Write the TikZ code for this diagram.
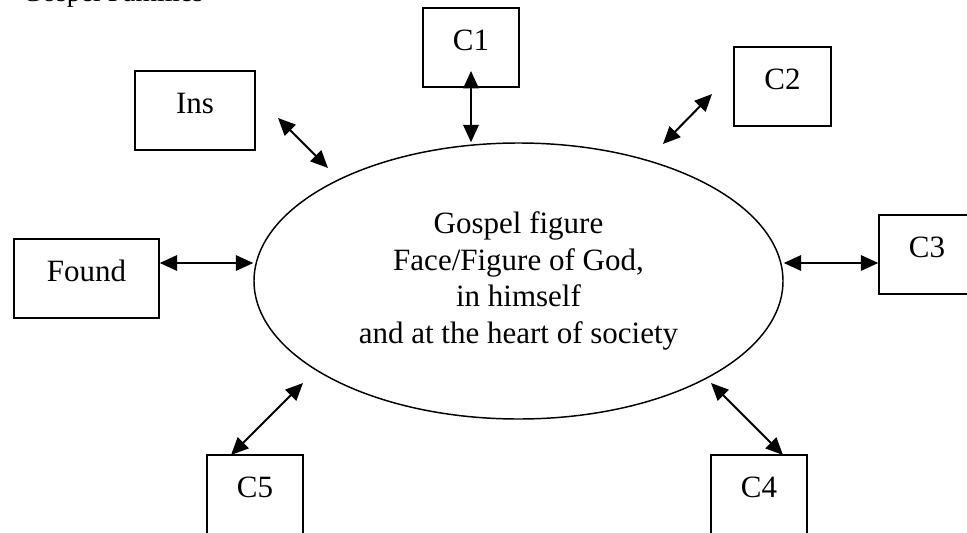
\documentclass[tikz,border=0pt]{standalone}
\usepackage{fontspec}
\setmainfont{Liberation Serif}
\usetikzlibrary{arrows.meta,shapes.geometric}

\begin{document}
\begin{tikzpicture}[x=.75pt,y=-.75pt,
  box/.style={draw,line width=1.1pt,inner sep=0pt,minimum height=59.25pt,
    text height=16pt,text depth=12pt,font=\fontsize{23.25}{27.5}\selectfont},
  link/.style={line width=1.5pt,
    {Triangle[length=13pt,width=11.5pt]}-{Triangle[length=13pt,width=11.5pt]}}]
\useasboundingbox (0,0) rectangle (967,532);
\node[anchor=base west,inner sep=0pt,font=\fontsize{20.8}{24}\selectfont] (title) at (22,1) {Gospel Families};
\node[box,minimum width=90pt] (ins) at (195,110.5) {Ins};
\node[box,minimum width=72pt] (c1) at (471,47.5) {C1};
\node[box,minimum width=72.75pt] (c2) at (782.5,86.5) {C2};
\node[box,minimum width=108.75pt] (found) at (86.5,278.5) {Found};
\node[box,minimum width=72pt] (c3) at (927,254.5) {C3};
\node[box,minimum width=72pt] (c5) at (255,494.5) {C5};
\node[box,minimum width=72pt] (c4) at (759,494.5) {C4};
\node[draw,ellipse,line width=1.1pt,inner sep=0pt,minimum width=396.75pt,minimum height=207pt,
  align=center,font=\fontsize{23.25}{27.5}\selectfont] (fig) at (518.5,281)
  {Gospel figure\\Face/Figure of God,\\in himself\\and at the heart of society};
\coordinate (c1-a) at (471,71);
\coordinate (ins-a) at (278,118);
\coordinate (ins-b) at (328,168);
\coordinate (c2-a) at (663,144);
\coordinate (c2-b) at (712,94);
\coordinate (c5-a) at (303,383);
\coordinate (c5-b) at (231,455);
\coordinate (c4-a) at (711,383);
\coordinate (c4-b) at (783,455);
\draw[link] (c1-a) -- (c1-a |- fig.north);
\draw[link] (ins-a) -- (ins-b);
\draw[link] (c2-a) -- (c2-b);
\draw[link] (found.east |- 0,263) -- (fig.west |- 0,263);
\draw[link] (fig.east |- 0,263) -- (c3.west |- 0,263);
\draw[link] (c5-a) -- (c5-b);
\draw[link] (c4-a) -- (c4-b);
\end{tikzpicture}
\end{document}
